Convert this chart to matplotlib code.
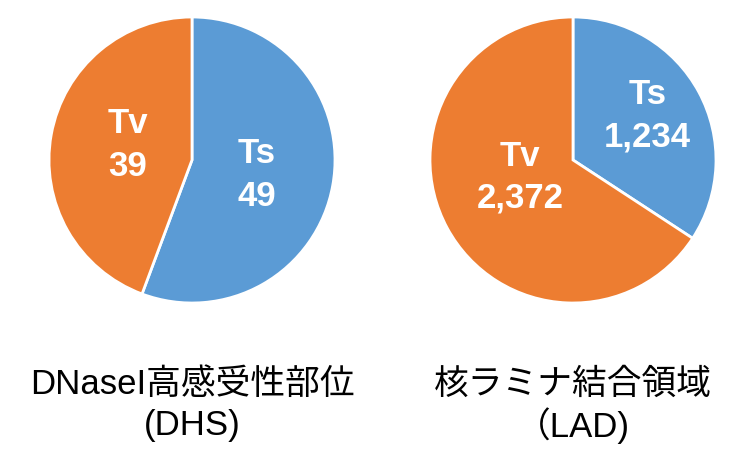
import matplotlib
matplotlib.use("Agg")
import matplotlib.pyplot as plt

# data
categories = ["Ts", "Tv"]
dhs_counts = [49, 39]
lad_counts = [1234, 2372]
titles = ["DNaseI高感受性部位\n(DHS)", "核ラミナ結合領域\n（LAD)"]

colors = ["#5B9BD5", "#ED7D31"]
# label centres inside each pie (in pie radius units)
label_pos = [
    [(0.455, -0.105), (-0.45, 0.105)],
    [(0.52, 0.31), (-0.37, -0.12)],
]

W, H = 734, 451
fig = plt.figure(figsize=(W / 100, H / 100), dpi=100)

centers = [(192, 160), (573, 160)]
R = 143

for k, counts in enumerate([dhs_counts, lad_counts]):
    cx, cy = centers[k]
    ax = fig.add_axes([(cx - R) / W, (H - cy - R) / H, 2 * R / W, 2 * R / H])
    ax.pie(counts, colors=colors, startangle=90, counterclock=False,
           wedgeprops=dict(edgecolor="white", linewidth=2))
    ax.set_xlim(-1, 1)
    ax.set_ylim(-1, 1)
    ax.set_aspect("equal")
    ax.axis("off")
    for i, cat in enumerate(categories):
        x, y = label_pos[k][i]
        ax.text(x, y, f"{cat}\n{counts[i]:,}", ha="center", va="center",
                color="white", fontsize=25, fontweight="bold",
                family="Liberation Sans", linespacing=1.35)
    line1, line2 = titles[k].split("\n")
    fig.text(cx / W, 1 - 384 / H, line1, ha="center", va="center",
             fontsize=25, family=["Liberation Sans", "Noto Sans CJK JP"])
    fig.text(cx / W, 1 - 426 / H, line2, ha="center", va="center",
             fontsize=25, family=["Liberation Sans", "Noto Sans CJK JP"])

fig.savefig("out.png", dpi=100, facecolor="white")
